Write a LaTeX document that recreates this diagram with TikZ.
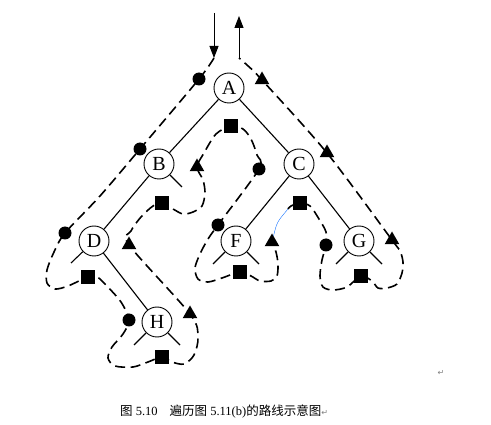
\documentclass[tikz,border=0pt]{standalone}
\usepackage{fontspec}
\setmainfont{Liberation Serif}
\newfontfamily\cjk{Noto Sans CJK SC}
\newfontfamily\sym{DejaVu Sans}
\usetikzlibrary{shapes.geometric, arrows.meta}

\begin{document}
\begin{tikzpicture}[x=1pt, y=-1pt, >={Triangle[width=9pt,length=12pt]},
    treenode/.style={circle, draw, line width=0.9pt, minimum size=30pt, inner sep=0pt, font=\fontsize{20}{20}\selectfont},
    branch/.style={line width=1.1pt},
    premark/.style={circle, fill, minimum size=13pt, inner sep=0pt},
    midmark/.style={rectangle, fill, minimum size=14pt, inner sep=0pt},
    postmark/.style={regular polygon, regular polygon sides=3, fill, minimum size=17pt, inner sep=0pt},
    route/.style={line width=1.6pt, dash pattern=on 10pt off 5.5pt}]

\useasboundingbox (0,0) rectangle (491,425);

% Define the tree nodes
\node[treenode] (A) at (229,88) {A};
\node[treenode] (B) at (159,164) {B};
\node[treenode] (C) at (299,164) {C};
\node[treenode] (D) at (94,241) {D};
\node[treenode] (F) at (236,241) {F};
\node[treenode] (G) at (359,241) {G};
\node[treenode] (H) at (157,322) {H};

% Empty links
\coordinate (Br) at (182,187);
\coordinate (Dl) at (71,263);
\coordinate (Fl) at (213,264);
\coordinate (Fr) at (259,264);
\coordinate (Gl) at (336,264);
\coordinate (Gr) at (382,264);
\coordinate (Hl) at (134,345);
\coordinate (Hr) at (180,345);

% Branches
\draw[branch] (A) -- (B) (A) -- (C) (B) -- (D) (C) -- (F) (C) -- (G) (D) -- (H);
\draw[branch] (B) -- (Br) (D) -- (Dl) (F) -- (Fl) (F) -- (Fr)
    (G) -- (Gl) (G) -- (Gr) (H) -- (Hl) (H) -- (Hr);

% Visit marks
\node[premark] (pA) at (199,79) {};
\node[premark] (pB) at (140,149) {};
\node[premark] (pD) at (65,233) {};
\node[premark] (pH) at (129,320) {};
\node[premark] (pC) at (259,169) {};
\node[premark] (pF) at (218,225) {};
\node[premark] (pG) at (326,245) {};

\node[midmark] (sD) at (88,277) {};
\node[midmark] (sH) at (162,357) {};
\node[midmark] (sB) at (162,203) {};
\node[midmark] (sA) at (231,126) {};
\node[midmark] (sF) at (240,272) {};
\node[midmark] (sC) at (300,203) {};
\node[midmark] (sG) at (361,276) {};

\node[postmark] (tH) at (190,314) {};
\node[postmark] (tD) at (129,245) {};
\node[postmark] (tB) at (197,167) {};
\node[postmark] (tF) at (272,242) {};
\node[postmark] (tG) at (392,240) {};
\node[postmark] (tC) at (327,153) {};
\node[postmark] (tA) at (262,80) {};

% Entry and exit
\coordinate (enter) at (214,13);
\coordinate (start) at (214,58);
\coordinate (stop) at (239,58);
\coordinate (leave) at (239,16);
\draw[->, line width=1pt] (enter) -- (start);
\draw[->, line width=1pt] (stop) -- (leave);

% Route
\coordinate (bend) at (288,209);
\draw[route] plot[smooth, tension=0.5] coordinates {(start) (pA.center) (pB.center) (100,196)
    (pD.center) (54,252) (47,270) (47,283) (55,289) (68,286) (sD.center) (97,277) (105,284)
    (121,302) (pH.center) (123,334) (112,347) (108,358) (115,366) (133,367) (148,362)
    (sH.center) (172,362) (184,364) (194,355) (198,337) (tH.center) (tD.center) (131,231)
    (141,217) (153,206) (sB.center) (173,209) (183,214) (193,212) (202,206) (205,193)
    (203,180) (tB.center) (204,153) (216,134) (sA.center) (243,129) (251,139) (257,155)
    (pC.center) (pF.center) (208,239) (200,254) (195,268) (198,279) (208,282) (222,278)
    (sF.center) (251,276) (260,281) (271,281) (277,276) (278,264) (276,252) (tF.center)};
\draw[blue!60!cyan, line width=0.35pt] (tF) .. controls (277,222) .. (bend);
\draw[route] plot[smooth, tension=0.5] coordinates {(bend) (291,206) (sC.center) (310,206)
    (319,219) (326,232) (pG.center) (322,260) (320,276) (323,287) (333,290) (347,287)
    (sG.center) (372,281) (378,288) (387,288) (397,284) (402,273) (403,262) (400,251)
    (tG.center) (tC.center) (tA.center) (247,65) (stop)};

% Caption
\node[anchor=base west, inner sep=0pt, font=\fontsize{12.5}{12.5}\selectfont] (cap) at (120,416)
    {{\cjk 图} 5.10\hspace{12pt}{\cjk 遍历图} 5.11(b){\cjk 的路线示意图}{\sym\color{gray}\fontsize{8}{8}\selectfont ↵}};
\node[text=gray, font=\sym\fontsize{8}{8}\selectfont] (ret) at (441,373) {↵};

\end{tikzpicture}
\end{document}
